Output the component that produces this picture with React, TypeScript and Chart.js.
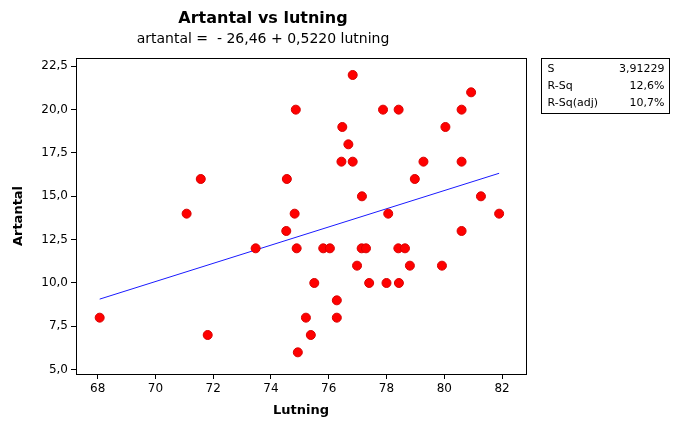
import React, { useEffect, useRef } from "react";
import { Chart, registerables } from "chart.js";

Chart.register(...registerables);

const lutning = [
  68.07, 71.08, 71.57, 71.81, 73.47, 74.53, 74.55, 74.82, 74.86, 74.89, 74.93, 75.21,
  75.38, 75.5, 75.81, 76.04, 76.28, 76.28, 76.44, 76.47, 76.68, 76.83, 76.83, 76.98,
  77.15, 77.14, 77.29, 77.4, 77.88, 78.06, 78.0, 78.42, 78.41, 78.64, 78.43, 78.81,
  78.98, 79.28, 79.92, 80.04, 80.6, 80.6, 80.6, 80.93, 81.27, 81.9,
];
const artantal = [
  8, 14, 16, 7, 12, 13, 16, 14, 20, 12, 6, 8,
  7, 10, 12, 12, 9, 8, 17, 19, 18, 22, 17, 11,
  15, 12, 12, 10, 20, 14, 10, 20, 12, 12, 10, 11,
  16, 17, 11, 19, 20, 17, 13, 21, 15, 14,
];
const fitX = [68.07, 81.9];
const fitY = [9.07, 16.33];
const xTickVals = [68, 70, 72, 74, 76, 78, 80, 82];
const yTickVals = [5, 7.5, 10, 12.5, 15, 17.5, 20, 22.5];
const statLabels = ["S", "R-Sq", "R-Sq(adj)"];
const statValues = ["3,91229", "12,6%", "10,7%"];

const FONT = "'DejaVu Sans', sans-serif";

const framePlugin = {
  id: "frameAndStats",
  afterDraw(chart: any) {
    const { ctx, chartArea } = chart;
    ctx.save();
    ctx.strokeStyle = "#000";
    ctx.lineWidth = 1;
    ctx.strokeRect(
      Math.round(chartArea.left) + 0.5,
      Math.round(chartArea.top) + 0.5,
      Math.round(chartArea.right - chartArea.left),
      Math.round(chartArea.bottom - chartArea.top)
    );
    // stats box
    const bx = 541.5, by = 58.5, bw = 128, bh = 55;
    ctx.strokeRect(bx, by, bw, bh);
    ctx.fillStyle = "#000";
    ctx.font = `11px ${FONT}`;
    ctx.textBaseline = "middle";
    statLabels.forEach((l, i) => {
      const y = by + 11 + i * 17;
      ctx.textAlign = "left";
      ctx.fillText(l, bx + 6, y);
      ctx.textAlign = "right";
      ctx.fillText(statValues[i], bx + bw - 5, y);
    });
    ctx.restore();
  },
};

export default function App() {
  const ref = useRef<HTMLCanvasElement>(null);
  useEffect(() => {
    if (!ref.current) return;
    const points = lutning.map((x, i) => ({ x, y: artantal[i] }));
    const fit = fitX.map((x, i) => ({ x, y: fitY[i] }));
    const chart = new Chart(ref.current, {
      type: "scatter",
      data: {
        datasets: [
          {
            type: "line",
            data: fit,
            borderColor: "#1a1aff",
            borderWidth: 1,
            pointRadius: 0,
            fill: false,
            order: 2,
          } as any,
          {
            data: points,
            backgroundColor: "#ff0000",
            borderColor: "#d80000",
            borderWidth: 1,
            pointRadius: 4.5,
            order: 1,
          },
        ],
      },
      options: {
        animation: false,
        responsive: false,
        devicePixelRatio: 1,
        layout: { padding: { left: 0, right: 147, top: 0, bottom: 0 } },
        plugins: {
          legend: { display: false },
          tooltip: { enabled: false },
          title: {
            display: true,
            text: "Artantal vs lutning",
            color: "#000",
            font: { family: FONT, size: 16, weight: "bold" },
            padding: { top: 9, bottom: 3 },
          },
          subtitle: {
            display: true,
            text: "artantal =  - 26,46 + 0,5220 lutning",
            color: "#000",
            font: { family: FONT, size: 14 },
            padding: { top: 0, bottom: 10 },
          },
        },
        scales: {
          x: {
            type: "linear",
            min: 67.25,
            max: 82.83,
            afterBuildTicks: (s: any) => {
              s.ticks = xTickVals.map((v) => ({ value: v }));
            },
            afterFit: (s: any) => {
              s.height = 47;
            },
            grid: { drawOnChartArea: false, drawTicks: true, tickLength: 5, color: "#000" },
            border: { display: true, color: "#000" },
            ticks: { color: "#000", font: { family: FONT, size: 12 }, padding: 3, maxRotation: 0 },
            title: {
              display: true,
              text: "Lutning",
              color: "#000",
              font: { family: FONT, size: 13, weight: "bold" },
              padding: { top: 2, bottom: 3 },
            },
          },
          y: {
            type: "linear",
            min: 4.75,
            max: 22.98,
            afterBuildTicks: (s: any) => {
              s.ticks = yTickVals.map((v) => ({ value: v }));
            },
            afterFit: (s: any) => {
              s.width = 76;
            },
            grid: { drawOnChartArea: false, drawTicks: true, tickLength: 5, color: "#000" },
            border: { display: true, color: "#000" },
            ticks: {
              color: "#000",
              font: { family: FONT, size: 12 },
              padding: 3,
              callback: (v: any) => Number(v).toFixed(1).replace(".", ","),
            },
            title: {
              display: true,
              text: "Artantal",
              color: "#000",
              font: { family: FONT, size: 13, weight: "bold" },
              padding: { top: 11, bottom: 0 },
            },
          },
        },
      },
      plugins: [framePlugin],
    });
    return () => chart.destroy();
  }, []);
  return (
    <div style={{ position: "absolute", left: 0, top: 0, width: 673, height: 421, background: "#fff" }}>
      <canvas ref={ref} width={673} height={421} style={{ width: 673, height: 421 }} />
    </div>
  );
}
